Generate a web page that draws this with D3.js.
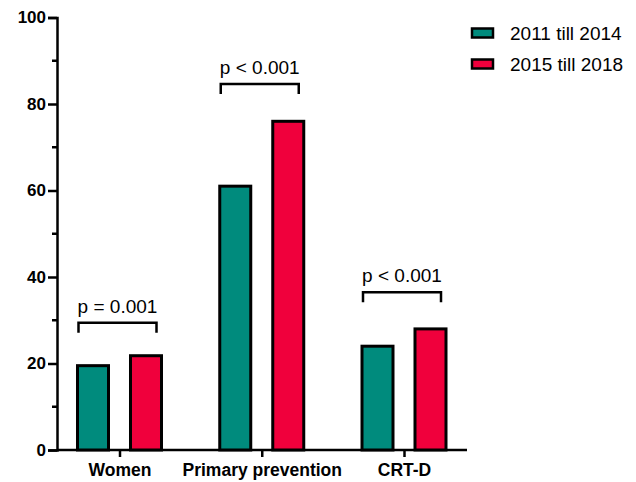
<!DOCTYPE html>
<html>
<head>
<meta charset="utf-8">
<script src="https://cdn.jsdelivr.net/npm/d3@7"></script>
<style>
  body { margin: 0; background: #fff; }
  text { font-family: "Liberation Sans", Arial, sans-serif; }
  .tick text { font-weight: bold; font-size: 17px; }
</style>
</head>
<body>
<svg width="636" height="482"></svg>
<script>
var categories = ["Women", "Primary prevention", "CRT-D"];
var series = ["2011 till 2014", "2015 till 2018"];
var values2011 = [19.5, 61, 24];
var values2015 = [21.8, 76, 28];
var pLabels = ["p = 0.001", "p < 0.001", "p < 0.001"];
var bracketLevels = [29.4, 84.6, 36.5];
var yTicks = [0, 20, 40, 60, 80, 100];
var colors = ["#008b7d", "#f0003c"];

var margin = {top: 17.5, left: 57},
    plotW = 410,
    plotH = 432.5;

var svg = d3.select("svg")
  .append("g")
  .attr("transform", "translate(" + margin.left + "," + margin.top + ")");

var y = d3.scaleLinear().domain([0, 100]).range([plotH, 0]);

var x = d3.scalePoint().domain(categories).range([62.5, 347]);

var sub = d3.scaleBand().domain(series).range([-42, 42]).paddingInner(0.415).paddingOuter(0);

// minor ticks
svg.append("g")
  .selectAll("line")
  .data(d3.range(10, 100, 20))
  .enter()
  .append("line")
  .attr("x1", -5).attr("x2", 0)
  .attr("y1", function(d){ return y(d); })
  .attr("y2", function(d){ return y(d); })
  .attr("stroke", "#000")
  .attr("stroke-width", 2.5);

// y axis
var yAxis = svg.append("g")
  .call(d3.axisLeft(y).tickValues(yTicks).tickSize(9).tickPadding(2));
yAxis.select(".domain").attr("stroke-width", 2.5);
yAxis.selectAll(".tick line").attr("stroke-width", 2.5);
yAxis.selectAll(".tick text").attr("fill", "#000");

// x axis
var xAxis = svg.append("g")
  .attr("transform", "translate(0," + plotH + ")")
  .call(d3.axisBottom(x).tickSize(7).tickPadding(7).tickSizeOuter(0));
xAxis.select(".domain").attr("d", "M0,0H" + plotW).attr("stroke-width", 2.5);
xAxis.selectAll(".tick line").attr("stroke-width", 2.5);
xAxis.selectAll(".tick text").attr("fill", "#000").style("font-size", "17.5px");

// bars
var data = [values2011, values2015];
data.forEach(function(vals, si) {
  svg.append("g")
    .selectAll("rect")
    .data(vals)
    .enter()
    .append("rect")
    .attr("x", function(d, i){ return x(categories[i]) + sub(series[si]); })
    .attr("y", function(d){ return y(d); })
    .attr("width", sub.bandwidth())
    .attr("height", function(d){ return plotH - y(d); })
    .attr("fill", colors[si])
    .attr("stroke", "#000")
    .attr("stroke-width", 3);
});

// significance brackets
categories.forEach(function(c, i) {
  var x0 = x(c) + sub(series[0]) + 1,
      x1 = x(c) + sub(series[1]) + sub.bandwidth() - 5,
      yb = y(bracketLevels[i]);
  svg.append("path")
    .attr("d", "M" + x0 + "," + (yb + 10) + "V" + yb + "H" + x1 + "V" + (yb + 10))
    .attr("fill", "none")
    .attr("stroke", "#000")
    .attr("stroke-width", 2.5);
  svg.append("text")
    .attr("x", (x0 + x1) / 2)
    .attr("y", yb - 10)
    .attr("text-anchor", "middle")
    .style("font-size", "19px")
    .text(pLabels[i]);
});

// legend
var legend = svg.append("g").attr("transform", "translate(415,0)");
series.forEach(function(s, i) {
  legend.append("rect")
    .attr("x", 0)
    .attr("y", 11 + i * 31)
    .attr("width", 21)
    .attr("height", 9)
    .attr("fill", colors[i])
    .attr("stroke", "#000")
    .attr("stroke-width", 2.5);
  legend.append("text")
    .attr("x", 38)
    .attr("y", 22 + i * 31)
    .style("font-size", "19px")
    .text(s);
});
</script>
</body>
</html>
